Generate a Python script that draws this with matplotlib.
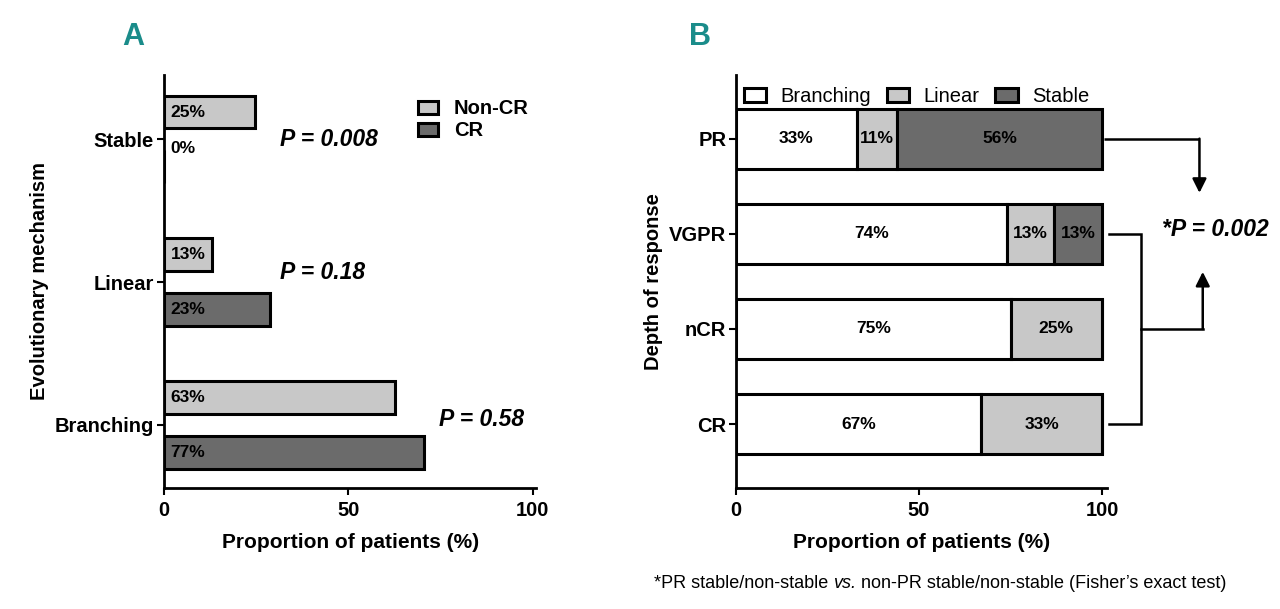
import matplotlib
matplotlib.use('Agg')
import matplotlib.pyplot as plt
import numpy as np

plt.rcParams['font.family'] = ['Liberation Sans', 'DejaVu Sans']

# ---- panel A data ----
mechanisms = ['Branching', 'Linear', 'Stable']
noncr_values = [62.6, 13.0, 24.7]
cr_values = [70.6, 28.7, 0.0]
noncr_labels = ['63%', '13%', '25%']
cr_labels = ['77%', '23%', '0%']
p_texts = ['P = 0.58', 'P = 0.18', 'P = 0.008']

# ---- panel B data ----
responses = ['CR', 'nCR', 'VGPR', 'PR']
branching = [67, 75, 74, 33]
linear = [33, 25, 13, 11]
stable = [0, 0, 13, 56]

light = '#c8c8c8'
dark = '#6b6b6b'
edge_lw = 2.2

fig = plt.figure(figsize=(12.8, 6.09), dpi=100)
axA = fig.add_axes([0.128, 0.199, 0.291, 0.678])
axB = fig.add_axes([0.575, 0.199, 0.290, 0.678])


def style_axes(ax):
    for s in ['top', 'right']:
        ax.spines[s].set_visible(False)
    for s in ['left', 'bottom']:
        ax.spines[s].set_linewidth(2.0)
    ax.tick_params(axis='both', length=5, width=1.5, labelsize=14.5, pad=2)
    ax.tick_params(axis='x', pad=4.5)
    for lab in ax.get_xticklabels() + ax.get_yticklabels():
        lab.set_fontweight('bold')


# ---------------- Panel A ----------------
y = np.arange(len(mechanisms))
off = 0.19
h = 0.23
axA.barh(y + off, noncr_values, height=h, color=light, edgecolor='black',
         linewidth=edge_lw, label='Non-CR')
axA.barh(y - off, cr_values, height=h, color=dark, edgecolor='black',
         linewidth=edge_lw, label='CR')

for i in range(len(mechanisms)):
    axA.text(1.8, y[i] + off, noncr_labels[i], ha='left', va='center',
             fontsize=12.5, fontweight='bold')
    yy = y[i] - off if cr_values[i] > 0 else y[i] - 0.065
    axA.text(1.8, yy, cr_labels[i], ha='left', va='center',
             fontsize=12.5, fontweight='bold')

# p values
p_pos = [(74.6, 0.035), (31.5, 1.07), (31.5, 2.0)]
for (px, py), t in zip(p_pos, p_texts):
    axA.text(px, py, t, ha='left', va='center', fontsize=16.5,
             fontweight='bold', fontstyle='italic')

axA.set_xlim(0, 101)
axA.set_ylim(-0.44, 2.45)
axA.set_yticks(y)
axA.set_yticklabels(mechanisms)
axA.set_xticks([0, 50, 100])
axA.set_xlabel('Proportion of patients (%)', fontsize=15, fontweight='bold', labelpad=9)
axA.set_ylabel('Evolutionary mechanism', fontsize=14.5, fontweight='bold', labelpad=4)
style_axes(axA)

axA.legend(loc='upper left', bbox_to_anchor=(0.66, 0.96), frameon=False,
           prop={'weight': 'bold', 'size': 14.5}, handlelength=1.0,
           handleheight=0.65, handletextpad=0.8, labelspacing=0.15,
           borderaxespad=0)

# ---------------- Panel B ----------------
yb = np.arange(len(responses))
hb = 0.63
left = np.zeros(len(responses))
for vals, col, name in [(branching, 'white', 'Branching'),
                        (linear, light, 'Linear'),
                        (stable, dark, 'Stable')]:
    vals = np.array(vals, dtype=float)
    axB.barh(yb, vals, left=left, height=hb, color=col, edgecolor='black',
             linewidth=edge_lw, label=name)
    for i, v in enumerate(vals):
        if v > 0:
            axB.text(left[i] + v / 2, yb[i], f'{int(v)}%', ha='center',
                     va='center', fontsize=12.5, fontweight='bold')
    left += vals

axB.set_xlim(0, 101.4)
axB.set_ylim(-0.67, 3.67)
axB.set_yticks(yb)
axB.set_yticklabels(responses)
axB.set_xticks([0, 50, 100])
axB.set_xlabel('Proportion of patients (%)', fontsize=15, fontweight='bold', labelpad=9)
axB.set_ylabel('Depth of response', fontsize=14.5, fontweight='bold', labelpad=4)
style_axes(axB)

axB.legend(loc='center left', bbox_to_anchor=(0.0, 0.947), ncol=3,
           frameon=False, prop={'size': 14.5}, handlelength=1.1,
           handleheight=0.7, handletextpad=0.7, columnspacing=0.8,
           borderaxespad=0)

# significance bracket / arrows
lw = 1.8
akw = dict(arrowstyle='-|>', color='black', lw=lw, mutation_scale=21,
           shrinkA=0, shrinkB=0)
pr, vg, ncr, cr = 3, 2, 1, 0
axB.plot([100.6, 126.6], [pr, pr], color='black', lw=lw, clip_on=False,
         solid_capstyle='butt')
axB.annotate('', xy=(126.6, 2.43), xytext=(126.6, pr), arrowprops=akw,
             annotation_clip=False)
axB.plot([101.8, 110.5, 110.5, 101.8], [vg, vg, cr, cr], color='black', lw=lw,
         clip_on=False, solid_joinstyle='miter')
axB.plot([110.5, 127.5], [ncr, ncr], color='black', lw=lw, clip_on=False)
axB.annotate('', xy=(127.5, 1.6), xytext=(127.5, ncr), arrowprops=akw,
             annotation_clip=False)
axB.text(116.5, 2.04, '*P = 0.002', ha='left', va='center', fontsize=16.5,
         fontweight='bold', fontstyle='italic', clip_on=False)

# panel letters
for xx, letter in [(133, 'A'), (700, 'B')]:
    fig.text(xx / 1280, 1 - 37 / 609, letter, color='#1a8c8a', fontsize=22,
             fontweight='bold', ha='center', va='center')

# footnote with italic "vs."
renderer = fig.canvas.get_renderer()
parts = [('*PR stable/non-stable ', 'normal'), ('vs.', 'italic'),
         (' non-PR stable/non-stable (Fisher’s exact test)', 'normal')]
xpos = 654
for txt, st in parts:
    t = fig.text(xpos / 1280, 1 - 584 / 609, txt, ha='left', va='center',
                 fontsize=13, fontstyle=st)
    xpos += t.get_window_extent(renderer).width

fig.savefig('out.png', dpi=100)
